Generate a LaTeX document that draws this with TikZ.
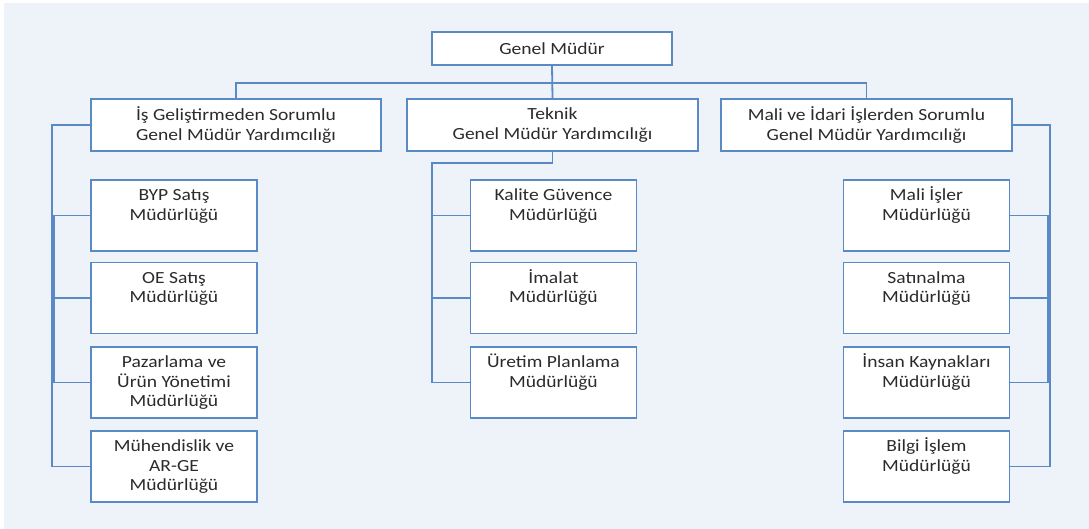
\documentclass[tikz,border=0pt]{standalone}
\usepackage{fontspec}
\setmainfont[FakeStretch=1.15]{Carlito}
\definecolor{bgc}{HTML}{EEF2F9}
\definecolor{lnc}{HTML}{5A8AC6}
\definecolor{txc}{HTML}{2B2B2B}
\newcommand\cbx[1]{\parbox[c][71pt][t]{166pt}{\centering\vspace*{7pt}\strut #1\par}}
\tikzset{
  box/.style={draw=lnc, line width=1.8pt, fill=white, inner sep=0pt, text=txc, align=center},
  bigbox/.style={box, minimum width=291pt, minimum height=52pt},
  conn/.style={draw=lnc, line width=1.8pt},
}
\begin{document}
\begin{tikzpicture}[x=1pt, y=-1pt, font=\fontsize{17pt}{19.5pt}\selectfont]
\useasboundingbox (0,0) rectangle (1089,529);
\fill[white] (0,0) rectangle (1089,529);
\fill[bgc] (4,3) rectangle (1089,529);

\node[box, minimum width=240pt, minimum height=33pt] (gm) at (552,48.5) {Genel Müdür};
\node[bigbox, minimum width=290pt] (L) at (236,125) {İş Geliştirmeden Sorumlu\\Genel Müdür Yardımcılığı};
\node[bigbox] (T) at (552.5,125) {Teknik\\Genel Müdür Yardımcılığı};
\node[bigbox] (R) at (866.5,125) {Mali ve İdari İşlerden Sorumlu\\Genel Müdür Yardımcılığı};

\node[box] (l1) at (174,215.5) {\cbx{BYP Satış\\Müdürlüğü}};
\node[box] (l2) at (174,298) {\cbx{OE Satış\\Müdürlüğü}};
\node[box] (l3) at (174,382.5) {\cbx{Pazarlama ve\\Ürün Yönetimi\\Müdürlüğü}};
\node[box] (l4) at (174,466.5) {\cbx{Mühendislik ve\\AR-GE\\Müdürlüğü}};

\node[box] (m1) at (553.5,215.5) {\cbx{Kalite Güvence\\Müdürlüğü}};
\node[box] (m2) at (553.5,298) {\cbx{İmalat\\Müdürlüğü}};
\node[box] (m3) at (553.5,382.5) {\cbx{Üretim Planlama\\Müdürlüğü}};

\node[box] (r1) at (926.5,215.5) {\cbx{Mali İşler\\Müdürlüğü}};
\node[box] (r2) at (926.5,298) {\cbx{Satınalma\\Müdürlüğü}};
\node[box] (r3) at (926.5,382.5) {\cbx{İnsan Kaynakları\\Müdürlüğü}};
\node[box] (r4) at (926.5,466.5) {\cbx{Bilgi İşlem\\Müdürlüğü}};

\coordinate (bus) at (552,83);
\coordinate (lx) at (52,125);
\coordinate (lx2) at (53.8,125);
\coordinate (mx) at (432,163);
\coordinate (rx) at (1050,125);
\coordinate (rx2) at (1048.2,125);

\draw[conn] (gm.south) -- (T.north);
\draw[conn] (L.north) |- (bus) -| (R.north);

\draw[conn] (L.west) -- (lx) |- (l4.west);
\foreach \n in {l1,l2,l3} \draw[conn] (lx |- \n.west) -- (\n.west);
\draw[conn] (lx2 |- l1.west) -- (lx2 |- l3.west);

\draw[conn] (T.south) |- (mx) |- (m3.west);
\foreach \n in {m1,m2} \draw[conn] (mx |- \n.west) -- (\n.west);

\draw[conn] (R.east) -- (rx) |- (r4.east);
\foreach \n in {r1,r2,r3} \draw[conn] (rx |- \n.east) -- (\n.east);
\draw[conn] (rx2 |- r1.east) -- (rx2 |- r3.east);
\end{tikzpicture}
\end{document}
